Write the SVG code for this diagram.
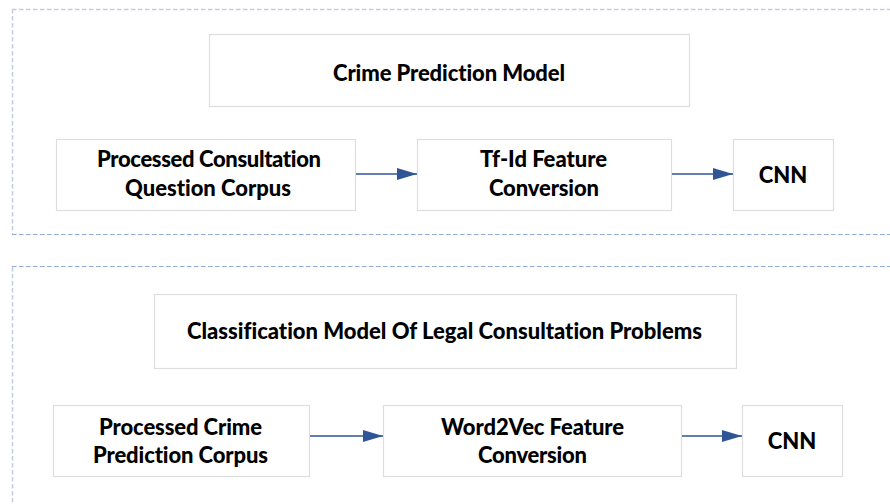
<svg xmlns="http://www.w3.org/2000/svg" width="890" height="504" viewBox="0 0 890 504">
  <style>
    .frame-strong { stroke: #8faadc; stroke-width: 1.2; stroke-dasharray: 4.5 2.5; fill: none; }
    .frame-soft { stroke: #c4cbe2; stroke-width: 1.5; stroke-dasharray: 4.5 2.5; fill: none; }
    .box { fill: #ffffff; stroke: #dedede; stroke-width: 1.2; }
    .label { font-family: Lato, "Open Sans", "Liberation Sans", sans-serif; font-weight: 900; font-size: 22px; fill: #000000; text-anchor: middle; font-variant-ligatures: none; }
    .link { stroke: #2f5597; stroke-width: 1.6; fill: none; }
  </style>
  <defs>
    <marker id="arrowhead" viewBox="0 0 20 12" refX="20" refY="6" markerWidth="20" markerHeight="12" markerUnits="userSpaceOnUse" orient="auto">
      <path d="M0,0 L20,6 L0,12 Z" fill="#2f5597"/>
    </marker>
  </defs>

  <rect width="890" height="504" fill="#ffffff"/>

  <!-- group frames (dashed outlines, open on the right) -->
  <g id="frames">
    <line class="frame-soft" x1="12" y1="9.5" x2="890" y2="9.5"/>
    <line class="frame-soft" x1="12.5" y1="9" x2="12.5" y2="234"/>
    <line class="frame-strong" x1="12" y1="234.5" x2="890" y2="234.5"/>
    <line class="frame-strong" x1="12" y1="266.5" x2="890" y2="266.5"/>
    <line class="frame-soft" x1="12.5" y1="267" x2="12.5" y2="504"/>
  </g>

  <!-- crime prediction pipeline -->
  <g id="title-crime">
    <rect class="box" x="209.5" y="34.5" width="480" height="72"/>
    <text class="label" x="449" y="81" textLength="232">Crime Prediction Model</text>
  </g>
  <g id="consultation-corpus">
    <rect class="box" x="56.5" y="139.5" width="299" height="71"/>
    <text class="label" x="209" y="167" textLength="224">Processed Consultation</text>
    <text class="label" x="208" y="196" textLength="166">Question Corpus</text>
  </g>
  <g id="tfidf">
    <rect class="box" x="417.5" y="139.5" width="254" height="71"/>
    <text class="label" x="543.5" y="167" textLength="127">Tf-Id Feature</text>
    <text class="label" x="544" y="196" textLength="110">Conversion</text>
  </g>
  <g id="cnn-top">
    <rect class="box" x="733.5" y="139.5" width="100" height="71"/>
    <text class="label" x="783" y="183">CNN</text>
  </g>

  <!-- consultation classification pipeline -->
  <g id="title-classification">
    <rect class="box" x="154.5" y="294.5" width="582" height="74"/>
    <text class="label" x="444.5" y="339" textLength="515">Classification Model Of Legal Consultation Problems</text>
  </g>
  <g id="crime-corpus">
    <rect class="box" x="53.5" y="405.5" width="256" height="71"/>
    <text class="label" x="180.5" y="435" textLength="163">Processed Crime</text>
    <text class="label" x="180.5" y="463" textLength="175">Prediction Corpus</text>
  </g>
  <g id="word2vec">
    <rect class="box" x="383.5" y="405.5" width="298" height="71"/>
    <text class="label" x="532.5" y="435" textLength="183">Word2Vec Feature</text>
    <text class="label" x="532.5" y="463" textLength="109">Conversion</text>
  </g>
  <g id="cnn-bottom">
    <rect class="box" x="742.5" y="405.5" width="100" height="71"/>
    <text class="label" x="792" y="449">CNN</text>
  </g>

  <!-- connectors -->
  <g id="connectors">
    <line class="link" x1="356" y1="174" x2="417" y2="174" marker-end="url(#arrowhead)"/>
    <line class="link" x1="672" y1="174" x2="733" y2="174" marker-end="url(#arrowhead)"/>
    <line class="link" x1="310" y1="436" x2="383" y2="436" marker-end="url(#arrowhead)"/>
    <line class="link" x1="682" y1="436" x2="742" y2="436" marker-end="url(#arrowhead)"/>
  </g>
</svg>
